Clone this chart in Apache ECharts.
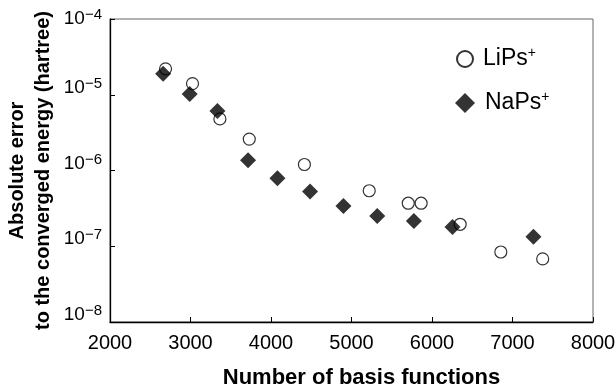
<!DOCTYPE html>
<html>
<head>
<meta charset="utf-8">
<script src="https://cdn.jsdelivr.net/npm/echarts@6/dist/echarts.min.js"></script>
<style>
  html, body { margin: 0; padding: 0; background: #fff; }
  #chart { width: 616px; height: 387px; }
</style>
</head>
<body>
<div id="chart"></div>
<script>
// basis-set size vs absolute error (hartree)
const lipsX = [2690, 3025, 3365, 3730, 4415, 5220, 5705, 5865, 6350, 6855, 7375];
const lipsY = [2.2e-5, 1.4e-5, 4.8e-6, 2.6e-6, 1.2e-6, 5.4e-7, 3.7e-7, 3.7e-7, 1.95e-7, 8.4e-8, 6.8e-8];
const napsX = [2660, 2990, 3335, 3715, 4080, 4485, 4900, 5320, 5775, 6255, 7260];
const napsY = [1.9e-5, 1.02e-5, 6.1e-6, 1.37e-6, 7.9e-7, 5.3e-7, 3.4e-7, 2.5e-7, 2.15e-7, 1.8e-7, 1.33e-7];
const xTicks = [2000, 3000, 4000, 5000, 6000, 7000, 8000];
const yExponents = [-8, -7, -6, -5, -4];

const FONT = '"Liberation Sans", Arial, Helvetica, sans-serif';

const chart = echarts.init(document.getElementById("chart"));

const legendRich = {
  n: { fontFamily: FONT, fontSize: 23, lineHeight: 26, color: "#000", padding: [0, 0, 0, 5] },
  p: { fontFamily: FONT, fontSize: 14, lineHeight: 14, color: "#000", padding: [0, 0, 12, 0] },
};
const legendFormatter = (name) => "{n|" + name.replace("+", "") + "}{p|+}";

const option = {
  animation: false,
  backgroundColor: "#fff",
  grid: {
    left: 110,
    right: 23,
    top: 19,
    bottom: 65,
    outerBoundsMode: "none",
    containLabel: false,
    show: true,
    borderColor: "#666",
    borderWidth: 1,
  },
  legend: [
    {
      data: ["LiPs+"],
      left: 456,
      top: 46,
      padding: 0,
      itemWidth: 16,
      itemHeight: 16,
      selectedMode: false,
      formatter: legendFormatter,
      textStyle: { fontFamily: FONT, fontSize: 23, rich: legendRich },
    },
    {
      data: ["NaPs+"],
      left: 455,
      top: 90,
      padding: 0,
      itemWidth: 20,
      itemHeight: 20,
      selectedMode: false,
      formatter: legendFormatter,
      textStyle: { fontFamily: FONT, fontSize: 23, rich: legendRich },
    },
  ],
  xAxis: {
    type: "value",
    min: xTicks[0],
    max: xTicks[xTicks.length - 1],
    interval: 1000,
    name: "Number of basis functions",
    nameLocation: "middle",
    nameGap: 45,
    nameTextStyle: {
      fontFamily: FONT,
      fontSize: 22,
      fontWeight: "bold",
      color: "#000",
      padding: [0, 0, 0, 20],
    },
    axisLine: { show: true, onZero: false, lineStyle: { color: "#000", width: 1.3 } },
    axisTick: { show: true, inside: true, length: 5, lineStyle: { color: "#000", width: 1 } },
    axisLabel: {
      fontFamily: FONT,
      fontSize: 20,
      color: "#000",
      margin: 11,
      formatter: (v) => String(v),
    },
    splitLine: { show: false },
  },
  yAxis: {
    type: "log",
    logBase: 10,
    min: Math.pow(10, yExponents[0]),
    max: Math.pow(10, yExponents[yExponents.length - 1]),
    name: "Absolute error\nto the converged energy (hartree)",
    nameLocation: "middle",
    nameGap: 54,
    nameMoveOverlap: false,
    nameTextStyle: {
      fontFamily: FONT,
      fontSize: 20,
      fontWeight: "bold",
      color: "#000",
      lineHeight: 26,
    },
    axisLine: { show: true, onZero: false, lineStyle: { color: "#000", width: 1.3 } },
    axisTick: { show: true, inside: true, length: 5, lineStyle: { color: "#000", width: 1 } },
    minorTick: { show: false },
    axisLabel: {
      margin: 8,
      fontFamily: FONT,
      fontSize: 18,
      color: "#000",
      formatter: (v) => {
        const e = Math.round(Math.log10(v));
        const top = e === yExponents[yExponents.length - 1];
        return top
          ? "{at|10}{st|\u2212" + Math.abs(e) + "}"
          : "{a|10}{s|\u2212" + Math.abs(e) + "}";
      },
      rich: {
        a: { fontFamily: FONT, fontSize: 19, lineHeight: 22, color: "#000", padding: [0, 0, 14, 0] },
        s: { fontFamily: FONT, fontSize: 15, lineHeight: 14, color: "#000", padding: [0, 0, 22, 0] },
        at: { fontFamily: FONT, fontSize: 19, lineHeight: 22, color: "#000" },
        st: { fontFamily: FONT, fontSize: 15, lineHeight: 14, color: "#000", padding: [0, 0, 8, 0] },
      },
    },
    splitLine: { show: false },
  },
  series: [
    {
      name: "LiPs+",
      type: "scatter",
      symbol: "circle",
      symbolSize: 12,
      itemStyle: { color: "#fff", borderColor: "#000", borderWidth: 1.2 },
      data: lipsX.map((x, i) => [x, lipsY[i]]),
      z: 2,
    },
    {
      name: "NaPs+",
      type: "scatter",
      symbol: "diamond",
      symbolSize: 16,
      itemStyle: { color: "#000" },
      data: napsX.map((x, i) => [x, napsY[i]]),
      z: 3,
    },
  ],
};

chart.setOption(option);
window.addEventListener("resize", () => chart.resize());
</script>
</body>
</html>
